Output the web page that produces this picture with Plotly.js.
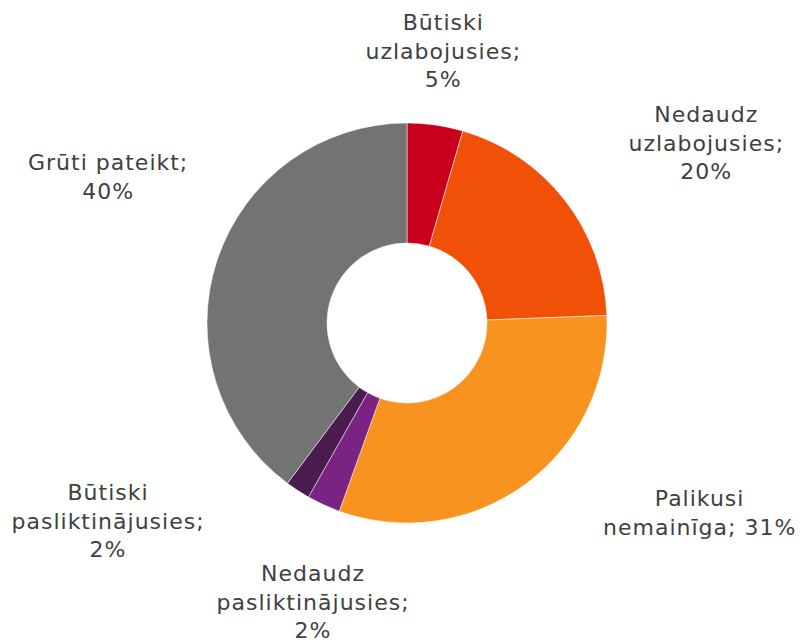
<!DOCTYPE html>
<html><head><meta charset="utf-8">
<script src="https://cdn.plot.ly/plotly-3.0.1.min.js"></script>
<style>body{margin:0;background:#fff}#c{width:803px;height:642px}
#c .annotation-text{letter-spacing:1px}</style>
</head><body><div id="c"></div>
<script>
const categories = ["Būtiski uzlabojusies","Nedaudz uzlabojusies","Palikusi nemainīga","Nedaudz pasliktinājusies","Būtiski pasliktinājusies","Grūti pateikt"];
const values = [4.5, 19.9, 31.1, 2.7, 2.0, 39.8];
const labelTexts = ["Būtiski<br>uzlabojusies;<br>5%","Nedaudz<br>uzlabojusies;<br>20%","Palikusi<br>nemainīga; 31%","Nedaudz<br>pasliktinājusies;<br>2%","Būtiski<br>pasliktinājusies;<br>2%","Grūti pateikt;<br>40%"];
const colors = ["#C8001E","#F05008","#F7931E","#7A2382","#4A1C50","#737373"];
const labelPos = [[443,51],[706,143],[699,513],[313,602],[108,521],[108,177]];
const W=803,H=642;
const annotations = labelTexts.map((t,i)=>({
  text:t, xref:'paper', yref:'paper', x:labelPos[i][0]/W, y:1-labelPos[i][1]/H,
  xanchor:'center', yanchor:'middle', align:'center', showarrow:false,
  font:{family:'DejaVu Sans, Verdana, sans-serif', size:22, color:'#404040'}
}));
const cx=407, cy=323, r=200;
Plotly.newPlot('c',[{
  type:'pie', labels:categories, values:values, sort:false, direction:'clockwise', rotation:0,
  hole:0.4, textinfo:'none', hoverinfo:'label+percent',
  marker:{colors:colors, line:{color:'#ffffff', width:0.5}},
  domain:{x:[(cx-r)/W,(cx+r)/W], y:[(H-cy-r)/H,(H-cy+r)/H]}
}],{
  width:W,height:H,margin:{l:0,r:0,t:0,b:0},showlegend:false,
  paper_bgcolor:'#fff', annotations:annotations
},{staticPlot:true});
</script></body></html>
